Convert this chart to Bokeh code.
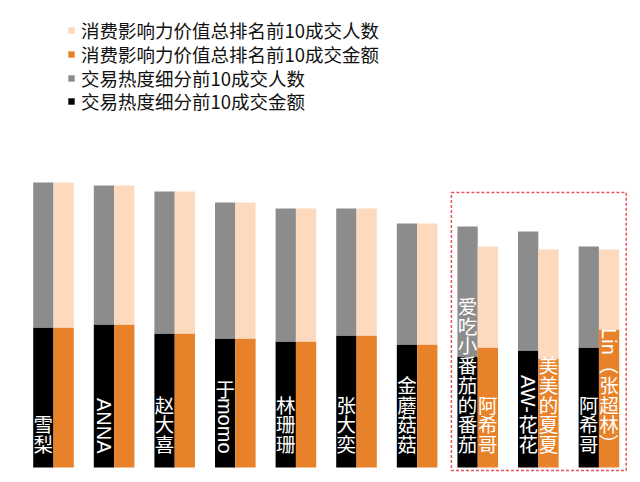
import math
from bokeh.plotting import figure
from bokeh.models import Range1d, ColumnDataSource, Legend, LegendItem, BoxAnnotation
from bokeh.core.properties import value
from bokeh.embed import file_html
from bokeh.resources import INLINE

# ---- data (relative heights) ----
heat_names = ["雪梨", "ANNA", "赵大喜", "于momo", "林珊珊", "张大奕", "金蘑菇菇",
              "爱吃小番茄的番茄", "AW-花花", "阿希哥"]
infl_names = ["雪梨", "ANNA", "赵大喜", "于momo", "林珊珊", "张大奕", "金蘑菇菇",
              "阿希哥", "美美的夏夏", "Lin（张超林）"]
heat_amount = [140, 143, 134, 129, 126, 132, 123, 111, 117, 120]   # 交易热度细分前10成交金额
heat_people = [145, 139, 142, 136, 133, 127, 121, 130, 119, 101]   # 交易热度细分前10成交人数
infl_amount = [140, 143, 134, 129, 126, 132, 123, 120, 109, 138]   # 消费影响力价值总排名前10成交金额
infl_people = [145, 139, 142, 136, 133, 127, 121, 101, 109, 80]    # 消费影响力价值总排名前10成交人数
highlight = [7, 9]  # groups inside the dashed box

legend_labels = ["消费影响力价值总排名前10成交人数", "消费影响力价值总排名前10成交金额",
                 "交易热度细分前10成交人数", "交易热度细分前10成交金额"]

C_PEACH = "#FDD9BE"
C_ORANGE = "#E8822A"
C_GRAY = "#8C8C8C"
C_BLACK = "#000000"

CJK = "Noto Sans CJK SC"
LAT = "Liberation Sans"

n = len(heat_names)
off = 0.1675
bw = 0.335
idx = list(range(n))

src = ColumnDataSource(dict(
    xl=[i - off for i in idx], xr=[i + off for i in idx],
    heat_amount=heat_amount, heat_people=heat_people,
    infl_amount=infl_amount, infl_people=infl_people,
))

FRAME_H = 466
p = figure(width=632, height=FRAME_H + 8, x_range=Range1d(-0.7426, 9.554), y_range=Range1d(-7, 459),
           output_backend="svg", toolbar_location=None, min_border=0,
           min_border_left=8, min_border_top=8,
           x_axis_location=None, y_axis_location=None)
p.grid.visible = False
p.outline_line_color = None
p.background_fill_color = "white"

hr = p.vbar_stack(["heat_amount", "heat_people"], x="xl", width=bw, source=src,
                  color=[C_BLACK, C_GRAY], line_width=0)
ir = p.vbar_stack(["infl_amount", "infl_people"], x="xr", width=bw, source=src,
                  color=[C_ORANGE, C_PEACH], line_width=0)

# ---- vertical labels ----
LAT_W = {'A': 0.667, 'N': 0.722, 'm': 0.833, 'o': 0.556, 'W': 0.944, '-': 0.333,
         'L': 0.556, 'i': 0.222, 'n': 0.556}
STEP = 19.75
FS_CJK = 19.5
FS_LAT = 20
BOTTOM = 14

up = dict(x=[], y=[], t=[])
rot = dict(x=[], y=[], t=[])
par = dict(x=[], y=[], t=[])


def tokens(s):
    out = []
    run = ""
    for ch in s:
        if ch in LAT_W:
            run += ch
        else:
            if run:
                out.append(("lat", run))
                run = ""
            out.append(("par" if ch in "（）" else "cjk", ch))
    if run:
        out.append(("lat", run))
    return out


def place(s, x):
    cur = BOTTOM
    for kind, t in reversed(tokens(s)):
        if kind == "lat":
            length = sum(LAT_W[c] for c in t) * FS_LAT
            rot["x"].append(x); rot["y"].append(cur + length); rot["t"].append(t)
            cur += length
        elif kind == "par":
            par["x"].append(x); par["y"].append(cur + STEP / 2); par["t"].append(t)
            cur += STEP
        else:
            up["x"].append(x); up["y"].append(cur + STEP / 2); up["t"].append(t)
            cur += STEP


for i in idx:
    place(heat_names[i], i - off)
    if infl_names[i] != heat_names[i]:
        place(infl_names[i], i + off)

p.text(x="x", y="y", text="t", source=ColumnDataSource(up), text_color="white",
       text_font=value(CJK), text_font_size=f"{FS_CJK}px", text_align="center",
       text_baseline="middle")
p.text(x="x", y="y", text="t", source=ColumnDataSource(rot), text_color="white",
       text_font=value(LAT), text_font_size=f"{FS_LAT}px", text_align="left",
       text_baseline="middle", angle=-math.pi / 2)
p.text(x="x", y="y", text="t", source=ColumnDataSource(par), text_color="white",
       text_font=value(CJK), text_font_size=f"{FS_CJK}px", text_align="center",
       text_baseline="middle", angle=-math.pi / 2)

# ---- dashed highlight box ----
box = BoxAnnotation(left=highlight[0] - 2 * off - 0.099, right=highlight[1] + 2 * off + 0.115,
                    bottom=-3, top=275, fill_alpha=0, line_color="#E5404F", line_alpha=0.9,
                    line_dash="3 2", line_width=1.5)
p.add_layout(box)

# ---- legend: one single-item legend per row for exact row spacing ----
ITEM_H = 22
row_centers = [32.0, 55.8, 79.6, 103.4]   # page y of each legend row
legend_renderers = [ir[1], ir[0], hr[1], hr[0]]
for lab, rend, cy in zip(legend_labels, legend_renderers, row_centers):
    center_from_bottom = FRAME_H - (cy - 8)
    lg = Legend(items=[LegendItem(label=lab, renderers=[rend])],
                location=(59, center_from_bottom - ITEM_H / 2), orientation="vertical")
    lg.glyph_width = 8
    lg.glyph_height = 8
    lg.label_standoff = 6
    lg.label_height = ITEM_H
    lg.padding = 0
    lg.margin = 0
    lg.spacing = 0
    lg.border_line_color = None
    lg.background_fill_alpha = 0
    lg.label_text_font = CJK
    lg.label_text_font_size = "18.5px"
    lg.label_text_color = "#111111"
    lg.label_text_baseline = "middle"
    p.add_layout(lg)

open("out.html", "w").write(file_html(p, INLINE))
